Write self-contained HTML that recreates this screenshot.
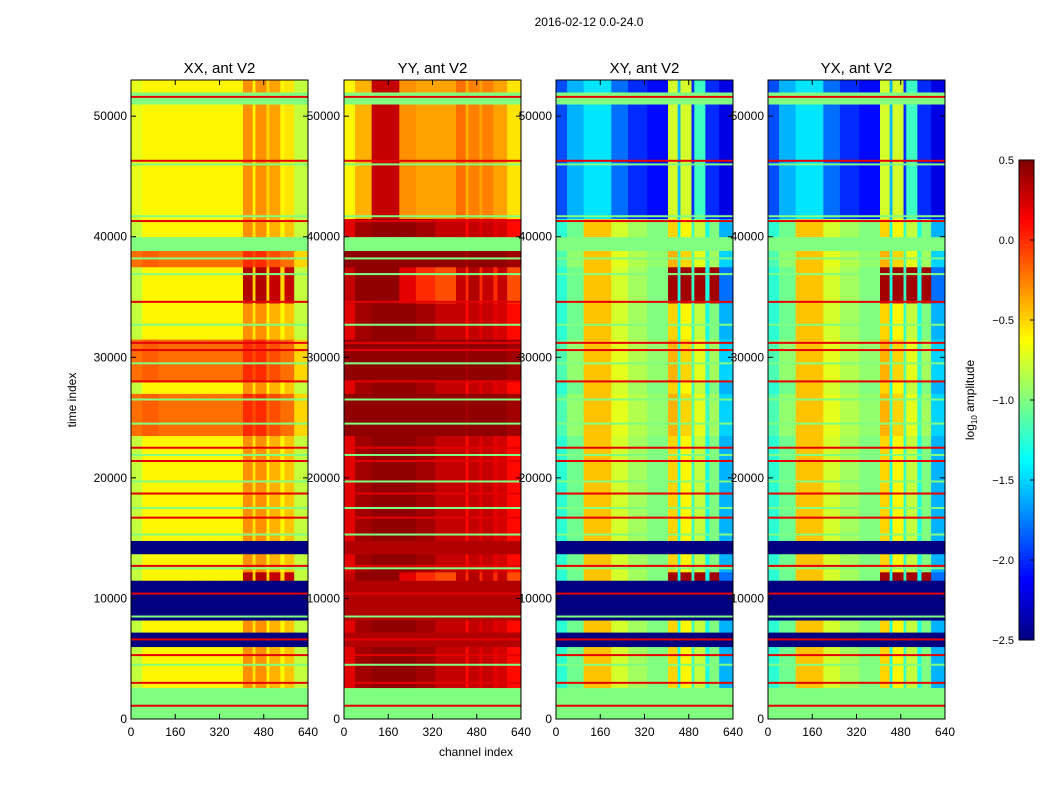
<!DOCTYPE html>
<html><head><meta charset="utf-8"><style>
body{margin:0;background:#fff;font-family:"Liberation Sans",sans-serif}
svg text{font-family:"Liberation Sans",sans-serif;fill:#000}
</style></head><body>
<svg id="fig" width="1050" height="800" xmlns="http://www.w3.org/2000/svg">
<rect width="1050" height="800" fill="#fff"/>
<text x="589" y="26" font-size="12" text-anchor="middle">2016-02-12 0.0-24.0</text>
<text x="0" y="0" font-size="12" text-anchor="middle" transform="translate(76,400) rotate(-90)">time index</text>
<text x="476" y="756" font-size="12" text-anchor="middle">channel index</text>
<g id="panels"></g>
<g id="cbar"></g>
</svg>
<script>
const panelNames = ["XX, ant V2","YY, ant V2","XY, ant V2","YX, ant V2"];
const channelEdges = [0,40,100,200,260,330,405,440,450,490,500,540,555,590,640];
const timeEdges = [0,2600,6000,7200,8200,11500,12200,13700,14800,23500,27000,28000,31500,34500,37500,39000,40000,41500,51000,52000,53000];
const rowKinds = ["green","normal","blue","normal","blue","hot","normal","blue","normal","warm","normal","warm","normal","hot","warm","green","normal","upper","green","upper"];
const profXX = {normal:[-0.8,-0.6,-0.6,-0.6,-0.6,-0.6,-0.3,-0.55,-0.3,-0.6,-0.4,-0.6,-0.45,-0.8],
  hot:[-0.8,-0.6,-0.6,-0.6,-0.6,-0.6,0.35,-0.5,0.35,-0.5,0.3,-0.5,0.3,-0.8],
  warm:[-0.2,-0.15,-0.2,-0.2,-0.2,-0.2,0,-0.1,0,-0.2,-0.1,-0.2,-0.2,-0.5],
  upper:[-0.7,-0.6,-0.6,-0.6,-0.6,-0.6,-0.3,-0.6,-0.3,-0.5,-0.35,-0.6,-0.55,-0.8],
  blue:[-2.5,-2.5,-2.5,-2.5,-2.5,-2.5,-2.5,-2.5,-2.5,-2.5,-2.5,-2.5,-2.5,-2.5],
  green:[-1,-1,-1,-1,-1,-1,-1,-1,-1,-1,-1,-1,-1,-1]};
const profYY = {normal:[0.2,0.4,0.45,0.45,0.4,0.3,0.3,0.1,0.3,0.2,0.3,0.2,0.25,0.1],
  hot:[0.3,0.45,0.45,0.2,0.0,-0.1,0.3,0.0,0.35,0.0,0.3,0.0,0.3,-0.1],
  warm:[0.45,0.45,0.45,0.45,0.45,0.45,0.45,0.4,0.45,0.45,0.45,0.45,0.45,0.4],
  upper:[-0.6,-0.4,0.3,-0.3,-0.35,-0.35,-0.2,-0.4,-0.25,-0.35,-0.25,-0.35,-0.35,-0.55],
  blue:[0.35,0.35,0.35,0.35,0.35,0.35,0.35,0.35,0.35,0.35,0.35,0.35,0.35,0.35],
  green:[-1,-1,-1,-1,-1,-1,-1,-1,-1,-1,-1,-1,-1,-1]};
const profXY = {normal:[-1.25,-1.05,-0.45,-0.75,-0.9,-1.0,-0.5,-1.3,-0.6,-1.2,-0.8,-1.3,-1.0,-1.6],
  hot:[-1.25,-1.05,-0.45,-0.75,-0.9,-1.0,0.4,-1.3,0.4,-1.2,0.4,-1.3,0.4,-1.8],
  warm:[-1.15,-0.95,-0.45,-0.7,-0.85,-0.95,-0.4,-1.2,-0.5,-1.1,-0.7,-1.2,-0.9,-1.5],
  upper:[-1.9,-1.6,-1.45,-1.8,-2.0,-2.1,-0.75,-1.6,-0.75,-2.0,-1.2,-2.0,-2.0,-2.2],
  blue:[-2.5,-2.5,-2.5,-2.5,-2.5,-2.5,-2.5,-2.5,-2.5,-2.5,-2.5,-2.5,-2.5,-2.5],
  green:[-1,-1,-1,-1,-1,-1,-1,-1,-1,-1,-1,-1,-1,-1]};
const profYX = profXY;
const panelProfiles = [profXX, profYY, profXY, profYX];
const redLineTimes = [1100,3000,5300,6600,10400,12700,16700,18700,21400,22500,28000,30600,31200,34600,41300,46300,51600];
const greenLineTimes = [4500,8500,12500,15300,17500,19700,21900,24500,26500,29500,32700,36900,38200,38900,41700,46000];
const yTicks = [0,10000,20000,30000,40000,50000];
const xTicks = [0,160,320,480,640];
const cbTicks = [0.5,0.0,-0.5,-1.0,-1.5,-2.0,-2.5];

const VMIN=-2.5, VMAX=0.5;
function jet(v){let t=Math.max(0,Math.min(1,(v-VMIN)/(VMAX-VMIN)));
  const f=x=>Math.round(255*Math.max(0,Math.min(1,1.5-Math.abs(4*t-x))));
  return `rgb(${f(3)},${f(2)},${f(1)})`;}
const NS="http://www.w3.org/2000/svg";
function mk(tag,attrs,parent){const e=document.createElementNS(NS,tag);for(const k in attrs)e.setAttribute(k,attrs[k]);parent.appendChild(e);return e;}
const panelX=[131,344,556,768], PW=177, TOP=80, BOT=719, TMAX=53000;
const yS=t=>BOT-(t/TMAX)*(BOT-TOP);
const root=document.getElementById('panels');
panelNames.forEach((name,p)=>{
  const x0=panelX[p], xS=c=>x0+c/640*PW;
  const g=mk('g',{},root);
  
  
  const prof=panelProfiles[p];
  for(let r=0;r<rowKinds.length;r++){
    const vals=prof[rowKinds[r]];
    for(let c=0;c<channelEdges.length-1;c++){
      const rc=mk('rect',{x:xS(channelEdges[c]),y:yS(timeEdges[r+1]),width:xS(channelEdges[c+1])-xS(channelEdges[c])+0.4,height:yS(timeEdges[r])-yS(timeEdges[r+1])+0.4,fill:jet(vals[c])},g);
      
      
    }
  }
  redLineTimes.forEach(t=>{const l=mk('rect',{x:x0,y:yS(t)-1,width:PW,height:2,fill:jet(0.2)},g);
    
    });
  greenLineTimes.forEach(t=>{const l=mk('rect',{x:x0,y:yS(t)-1,width:PW,height:2,fill:jet(-1.0)},g);
    
    });
  mk('rect',{x:x0,y:TOP,width:PW,height:BOT-TOP,fill:'none',stroke:'#000','stroke-width':1},g);
  const tt=mk('text',{x:x0+PW/2,y:TOP-7,'font-size':15,'text-anchor':'middle'},g);tt.textContent=name;
  
  
  yTicks.forEach(v=>{const y=yS(v);
    mk('line',{x1:x0,x2:x0+5,y1:y,y2:y,stroke:'#000'},g);mk('line',{x1:x0+PW-5,x2:x0+PW,y1:y,y2:y,stroke:'#000'},g);
    const t=mk('text',{x:x0-4,y:y+4,'font-size':12,'text-anchor':'end'},g);t.textContent=v;
    
    });
  xTicks.forEach(v=>{const x=xS(v);
    mk('line',{x1:x,x2:x,y1:BOT,y2:BOT-5,stroke:'#000'},g);mk('line',{x1:x,x2:x,y1:TOP,y2:TOP+5,stroke:'#000'},g);
    const t=mk('text',{x:x,y:BOT+17,'font-size':12,'text-anchor':'middle'},g);t.textContent=v;
    
    });
});
const cb=document.getElementById('cbar');


const CX=1019,CW=15,CT=160,CB=640;
const cS=v=>CB-(v-VMIN)/(VMAX-VMIN)*(CB-CT);
for(let i=0;i<120;i++){const v0=VMIN+i*(VMAX-VMIN)/120,v1=VMIN+(i+1)*(VMAX-VMIN)/120;
  mk('rect',{x:CX,y:cS(v1),width:CW,height:cS(v0)-cS(v1)+0.5,fill:jet((v0+v1)/2)},cb);}
mk('rect',{x:CX,y:CT,width:CW,height:CB-CT,fill:'none',stroke:'#000'},cb);
cbTicks.forEach(v=>{const y=cS(v);mk('line',{x1:CX+CW-4,x2:CX+CW,y1:y,y2:y,stroke:'#000'},cb);
  const t=mk('text',{x:CX-5,y:y+4,'font-size':11,'text-anchor':'end'},cb);t.textContent=(v<0?'\u2212':'')+Math.abs(v).toFixed(1);
  
  });
const lab=mk('text',{'font-size':12,'text-anchor':'middle',transform:'translate(974,400) rotate(-90)'},cb);
lab.innerHTML='log<tspan font-size="8" dy="3">10</tspan><tspan dy="-3"> amplitude</tspan>';


</script>
</body></html>
